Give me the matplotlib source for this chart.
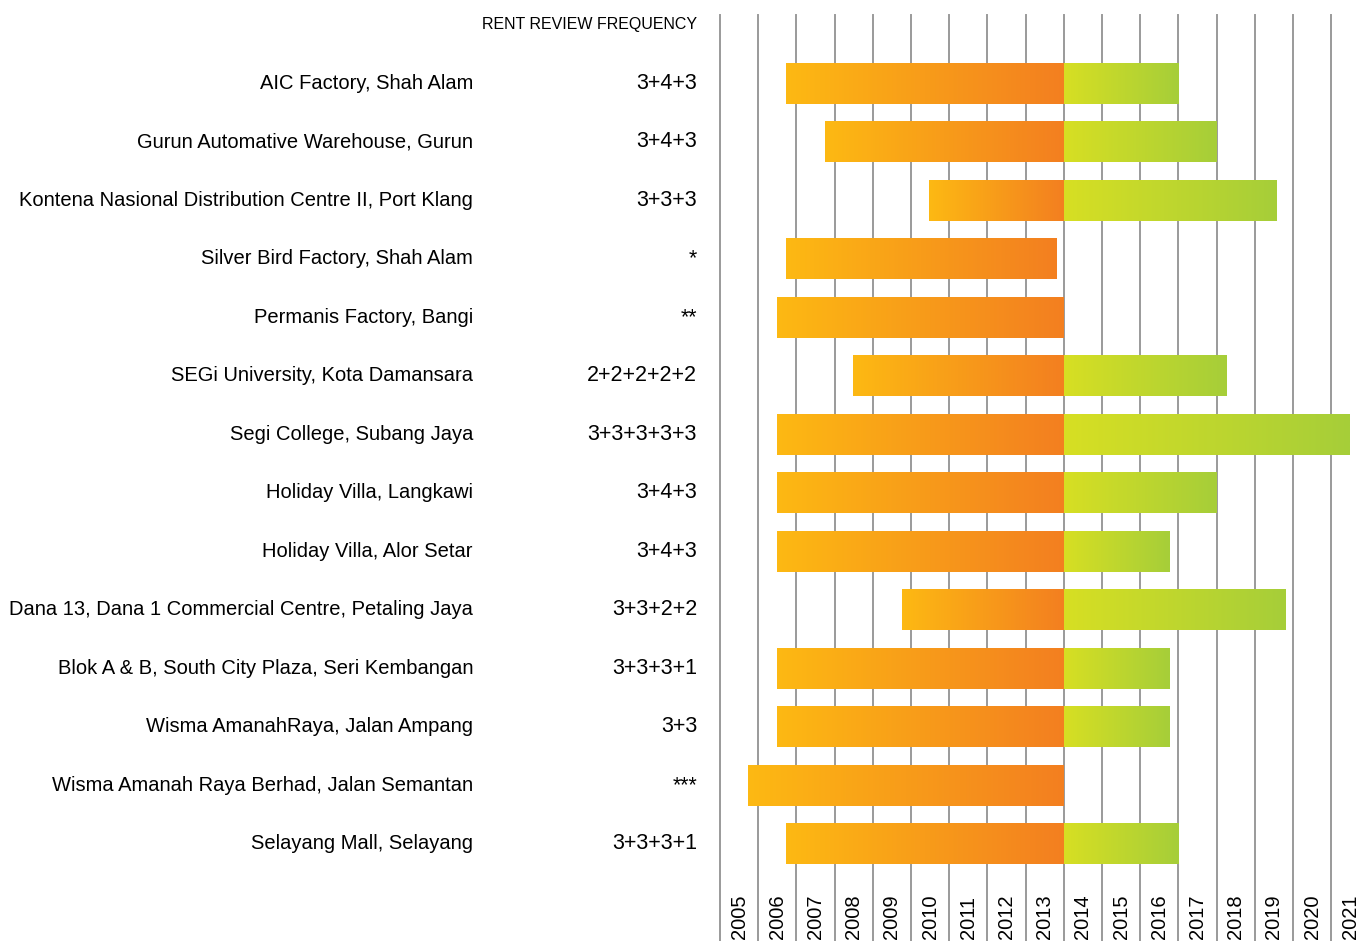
import numpy as np
import matplotlib
matplotlib.use('Agg')
import matplotlib.pyplot as plt
from matplotlib.colors import LinearSegmentedColormap
import matplotlib.transforms as mtransforms

plt.rcParams['font.family'] = ['Liberation Sans', 'DejaVu Sans']

# Dados
propriedades = [
    "AIC Factory, Shah Alam",
    "Gurun Automative Warehouse, Gurun",
    "Kontena Nasional Distribution Centre II, Port Klang",
    "Silver Bird Factory, Shah Alam",
    "Permanis Factory, Bangi",
    "SEGi University, Kota Damansara",
    "Segi College, Subang Jaya",
    "Holiday Villa, Langkawi",
    "Holiday Villa, Alor Setar",
    "Dana 13, Dana 1 Commercial Centre, Petaling Jaya",
    "Blok A & B, South City Plaza, Seri Kembangan",
    "Wisma AmanahRaya, Jalan Ampang",
    "Wisma Amanah Raya Berhad, Jalan Semantan",
    "Selayang Mall, Selayang",
]
frequencia = ["3+4+3", "3+4+3", "3+3+3", "*", "**", "2+2+2+2+2", "3+3+3+3+3",
              "3+4+3", "3+4+3", "3+3+2+2", "3+3+3+1", "3+3", "***", "3+3+3+1"]
inicio = [2006.73, 2007.75, 2010.47, 2006.73, 2006.5, 2008.48, 2006.5,
          2006.5, 2006.5, 2009.76, 2006.5, 2006.5, 2005.74, 2006.73]
fim = [2017.0, 2018.0, 2019.55, 2013.8, 2014.0, 2018.25, 2021.47,
       2018.0, 2016.75, 2019.8, 2016.75, 2016.75, 2014.0, 2017.0]
corte = 2014.0
anos = list(range(2005, 2022))

cmap_laranja = LinearSegmentedColormap.from_list('laranja', ['#FDB913', '#F37F20'])
cmap_verde = LinearSegmentedColormap.from_list('verde', ['#D7DF23', '#A6CE39'])
grad = np.linspace(0, 1, 256).reshape(1, -1)

fig = plt.figure(figsize=(13.58, 9.41), dpi=100)
ax = fig.add_axes([720 / 1358, 0, 1 - 720 / 1358, 1 - 15 / 941])

# linhas verticais dos anos
for a in anos + [2022]:
    ax.axvline(a, color='#9a9a9a', lw=1.4, zorder=1, clip_on=False)

altura = 0.7
for i, (ini, f) in enumerate(zip(inicio, fim)):
    y0, y1 = i + altura / 2, i - altura / 2
    fim_laranja = min(f, corte)
    ax.imshow(grad, cmap=cmap_laranja, aspect='auto', extent=[ini, fim_laranja, y0, y1],
              zorder=2, interpolation='bilinear')
    if f > corte:
        ax.imshow(grad, cmap=cmap_verde, aspect='auto', extent=[corte, f, y0, y1],
                  zorder=2, interpolation='bilinear')

ax.set_xlim(2005.0, 2021.70)
ax.set_ylim(14.66, -1.17)
ax.axis('off')

# anos na base
trans_x = ax.get_xaxis_transform()
for a in anos:
    ax.text(a + 0.5, 0.002, str(a), rotation=90, ha='center', va='bottom',
            fontsize=14.5, transform=trans_x, zorder=3)

# rótulos à esquerda
trans = mtransforms.blended_transform_factory(fig.transFigure, ax.transData)
for i, (p, fr) in enumerate(zip(propriedades, frequencia)):
    fig.text(473 / 1358, i, p, ha='right', va='center', fontsize=14.5, transform=trans)
    fig.text(697 / 1358, i, fr, ha='right', va='center', fontsize=15.5, transform=trans)

fig.text(697 / 1358, 1 - 24 / 941, "RENT REVIEW FREQUENCY", ha='right', va='center', fontsize=11.5)

plt.savefig('out.png', dpi=100)
